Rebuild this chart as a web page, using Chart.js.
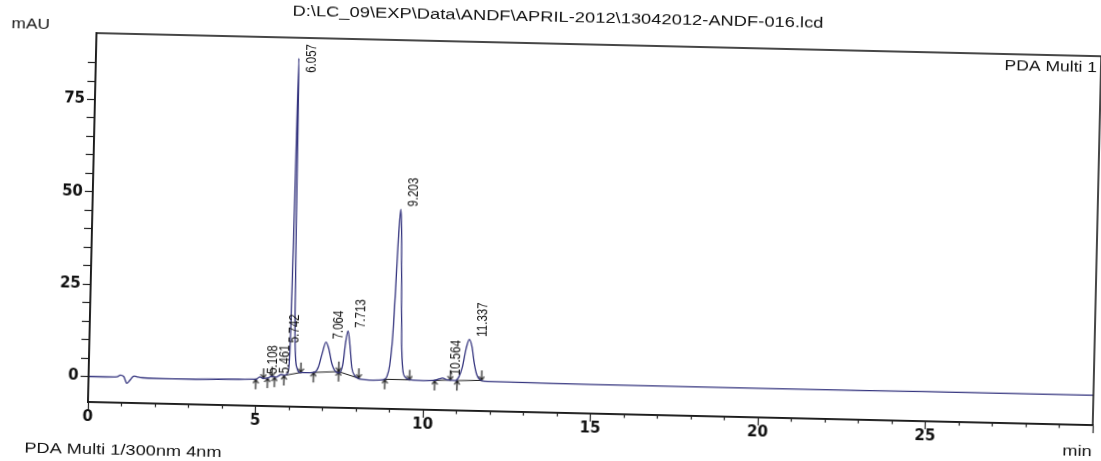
<!DOCTYPE html>
<html><head><meta charset="utf-8">
<script src="https://cdn.jsdelivr.net/npm/chart.js@4.4.1/dist/chart.umd.min.js"></script>
<style>
html,body{margin:0;padding:0;background:#fff;overflow:hidden;width:1101px;height:461px;}
#c{position:absolute;left:0;top:-12px;width:1101px;height:480px;transform-origin:88px 414px;transform:rotate(1.32deg);}
</style></head><body>
<canvas id="c" width="1101" height="480"></canvas>
<script>
// ---- data ----
const titleText = 'D:\\LC_09\\EXP\\Data\\ANDF\\APRIL-2012\\13042012-ANDF-016.lcd';
const yUnit = 'mAU';
const xUnit = 'min';
const channelText = 'PDA Multi 1';
const channelDetail = 'PDA Multi 1/300nm 4nm';
const xTickLabels = [0, 5, 10, 15, 20, 25];
const yTickLabels = [0, 25, 50, 75];

// retention time (min)
const times = [0.0, 0.5, 0.85, 0.95, 1.05, 1.15, 1.25, 1.35, 1.45, 1.6, 2.5, 3.5, 4.5, 4.9,
  5.0, 5.108, 5.2, 5.35, 5.461, 5.6, 5.742, 5.85, 5.93, 5.98, 6.01, 6.035, 6.057, 6.075, 6.095,
  6.12, 6.16, 6.22, 6.3, 6.45, 6.6, 6.75, 6.85, 6.95, 7.064, 7.15, 7.25, 7.38, 7.48, 7.58, 7.65,
  7.713, 7.78, 7.85, 7.95, 8.1, 8.5, 8.8, 8.9, 8.98, 9.05, 9.1, 9.15, 9.203, 9.24, 9.28, 9.32,
  9.37, 9.45, 9.6, 10.0, 10.3, 10.45, 10.564, 10.7, 10.95, 11.05, 11.15, 11.25, 11.337, 11.42,
  11.5, 11.58, 11.68, 11.8, 12.5, 15, 20, 25, 30];
// detector signal (mAU)
const absorbance = [0.0, 0.0, 0.1, 0.6, 0.2, -1.6, -0.6, 0.4, 0.2, 0.0, -0.1, 0.0, 0.2, 0.3,
  0.3, 1.0, 0.6, 0.7, 1.2, 1.0, 1.7, 1.6, 2.0, 5, 22, 60, 87.5, 72, 42,
  18, 7, 3.4, 2.4, 2.4, 2.4, 2.6, 4, 7.5, 10.8, 9, 5, 2.8, 2.6, 5, 11,
  14, 10, 4, 1.8, 1.0, 0.8, 1.0, 1.8, 5, 13, 25, 39, 47.2, 42, 26, 11,
  4, 1.8, 1.1, 1.0, 1.1, 1.5, 1.8, 1.3, 1.2, 2.2, 5, 10, 12.4, 10.5,
  6, 3, 1.6, 1.2, 1.1, 1.0, 1.0, 1.1, 1.2];

// labelled peaks
const peakTimes = [5.108, 5.461, 5.742, 6.057, 7.064, 7.713, 9.203, 10.564, 11.337];
const peakHeights = [1.0, 1.2, 1.7, 87.5, 10.8, 14, 47.2, 1.8, 12.4];

// integration start / end marks
const startTimes = [4.99, 5.34, 5.55, 5.83, 6.71, 7.46, 8.84, 10.33, 11.0];
const startLevels = [0.3, 0.7, 1.0, 1.5, 2.5, 2.9, 1.1, 1.1, 1.2];
const endTimes = [5.22, 5.47, 6.33, 7.46, 8.06, 9.58, 10.8, 11.73];
const endLevels = [0.6, 1.1, 2.4, 2.9, 1.2, 1.1, 1.3, 1.4];

// integration baselines
const baseFromT = [5.83, 6.71, 7.46, 8.84, 10.33, 11.0];
const baseFromV = [1.5, 2.5, 2.9, 1.1, 1.1, 1.2];
const baseToT = [6.33, 7.46, 8.06, 9.58, 10.8, 11.73];
const baseToV = [2.4, 2.9, 1.2, 1.1, 1.3, 1.4];

// ---- build ----
const traceData = times.map((t, i) => ({x: t, y: absorbance[i]}));
const baseData = [];
baseFromT.forEach((t, i) => {
  baseData.push({x: t, y: baseFromV[i]});
  baseData.push({x: baseToT[i], y: baseToV[i]});
  baseData.push({x: baseToT[i], y: null});
});
const startData = startTimes.map((t, i) => ({x: t, y: startLevels[i]}));
const endData = endTimes.map((t, i) => ({x: t, y: endLevels[i]}));

function arrowCanvas(up) {
  const c = document.createElement('canvas');
  c.width = 7; c.height = 22;
  const g = c.getContext('2d');
  g.strokeStyle = '#151515'; g.lineWidth = 1.2;
  g.beginPath();
  if (up) {
    g.moveTo(3.5, 11); g.lineTo(3.5, 21);
    g.moveTo(0.8, 15); g.lineTo(3.5, 11); g.lineTo(6.2, 15);
  } else {
    g.moveTo(3.5, 1); g.lineTo(3.5, 11);
    g.moveTo(0.8, 7); g.lineTo(3.5, 11); g.lineTo(6.2, 7);
  }
  g.stroke();
  return c;
}

function stretchText(ctx, text, x, y, align, size, sx) {
  ctx.save();
  ctx.font = size + 'px "Liberation Sans", Arial, sans-serif';
  ctx.fillStyle = '#111';
  ctx.textBaseline = 'middle';
  ctx.textAlign = 'left';
  const w = ctx.measureText(text).width * sx;
  const left = align === 'center' ? x - w / 2 : (align === 'right' ? x - w : x);
  ctx.translate(left, y);
  ctx.scale(sx, 1);
  ctx.fillText(text, 0, 0);
  ctx.restore();
}

const decor = {
  id: 'decor',
  afterDraw(chart) {
    const ctx = chart.ctx, a = chart.chartArea;
    const xs = chart.scales.x, ys = chart.scales.y;
    ctx.save();
    ctx.strokeStyle = '#1a1a1a';
    ctx.lineWidth = 1.6;
    ctx.strokeRect(a.left, a.top, a.right - a.left, a.bottom - a.top);
    ctx.restore();

    stretchText(ctx, titleText, 549, 19, 'center', 14, 1.31);
    stretchText(ctx, yUnit, 22, 38, 'center', 14, 1.23);
    stretchText(ctx, channelText, a.right - 4, a.top + 12, 'right', 14, 1.25);
    stretchText(ctx, channelDetail, 124, 462, 'center', 14, 1.3);
    stretchText(ctx, xUnit, 1078, 441, 'center', 14, 1.3);

    // peak retention-time labels
    ctx.save();
    ctx.font = '11.5px "Liberation Sans", Arial, sans-serif';
    ctx.fillStyle = '#111';
    let prev = null;
    peakTimes.forEach((t, i) => {
      const label = t.toFixed(3);
      const w = ctx.measureText(label).width;
      const x = xs.getPixelForValue(t) + 13;
      let start = ys.getPixelForValue(peakHeights[i]) - 3;
      if (start - w < a.top + 6) start = a.top + 6 + w;
      if (prev && x - prev.x < 10 && start > prev.top - 2) start = prev.top - 2;
      ctx.save();
      ctx.translate(x, start);
      ctx.rotate(-Math.PI / 2);
      ctx.scale(1, 1.2);
      ctx.textAlign = 'left';
      ctx.textBaseline = 'middle';
      ctx.fillText(label, 0, 0);
      ctx.restore();
      prev = {x: x, top: start - w};
    });
    ctx.restore();
  }
};

new Chart(document.getElementById('c'), {
  type: 'line',
  data: {
    datasets: [
      {label: 'trace', data: traceData, borderColor: '#35357f', borderWidth: 1.3,
       pointRadius: 0, cubicInterpolationMode: 'monotone', fill: false},
      {label: 'baseline', data: baseData, borderColor: '#1a1a1a', borderWidth: 1,
       pointRadius: 0, spanGaps: false, tension: 0, fill: false},
      {type: 'scatter', label: 'start', data: startData, pointStyle: arrowCanvas(true),
       pointRadius: 5, showLine: false},
      {type: 'scatter', label: 'end', data: endData, pointStyle: arrowCanvas(false),
       pointRadius: 5, showLine: false}
    ]
  },
  options: {
    responsive: false,
    animation: false,
    devicePixelRatio: 1,
    layout: {padding: {top: 45, right: 8, left: 0, bottom: 0}},
    plugins: {legend: {display: false}, tooltip: {enabled: false}},
    scales: {
      x: {
        type: 'linear', position: 'bottom', min: 0, max: 30,
        afterFit(s) { s.height = 66; },
        ticks: {
          stepSize: 1, autoSkip: false, maxRotation: 0, padding: -2,
          color: '#111', font: {family: 'DejaVu Sans', size: 15, weight: 'bold'},
          callback: v => xTickLabels.includes(v) ? String(v) : ''
        },
        grid: {
          drawOnChartArea: false, tickLength: 8, tickColor: '#222', tickWidth: 1.2,
          tickBorderDash: c => (c.tick && c.tick.value % 5 === 0) ? [] : [3, 20]
        },
        border: {color: '#1a1a1a', width: 1.6}
      },
      y: {
        type: 'linear', position: 'left', min: -6.9, max: 93,
        afterFit(s) { s.width = 88; },
        ticks: {
          stepSize: 5, autoSkip: false, padding: 2,
          color: '#111', font: {family: 'DejaVu Sans', size: 15, weight: 'bold'},
          callback: v => yTickLabels.includes(v) ? String(v) : ''
        },
        grid: {
          drawOnChartArea: false, tickLength: 8, tickWidth: 1.2,
          tickColor: c => (c.tick && Math.abs(c.tick.value % 5) < 1e-9) ? '#222' : 'rgba(0,0,0,0)'
        },
        border: {color: '#1a1a1a', width: 1.6}
      }
    }
  },
  plugins: [decor]
});
</script>
</body></html>
